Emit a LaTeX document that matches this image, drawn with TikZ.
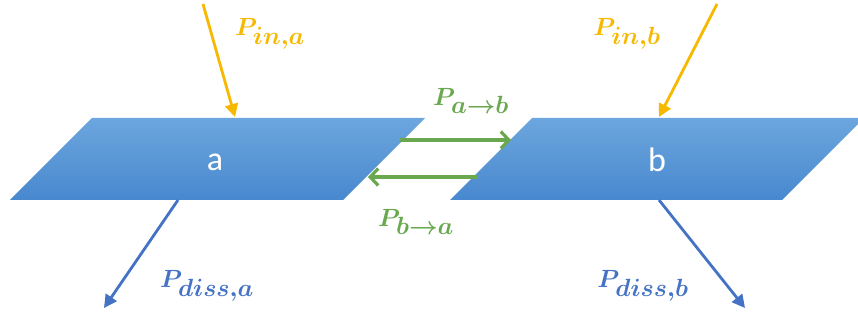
\documentclass[tikz,border=0pt]{standalone}
\usepackage{fontspec}
\newfontfamily\platefont{Carlito}
\usetikzlibrary{arrows.meta}
\definecolor{ptop}{HTML}{6CA6DE}
\definecolor{pbot}{HTML}{4888CE}
\definecolor{pgold}{HTML}{F7B800}
\definecolor{pgreen}{HTML}{6AA84F}
\definecolor{pdblue}{HTML}{4472C4}
\DeclareMathSizes{31}{31}{23}{17}
\tikzset{
  plate/.style={top color=ptop,bottom color=pbot,draw=none},
  platelabel/.style={text=white,font=\platefont\fontsize{34}{36}\selectfont,inner sep=0pt},
  pw/.style={font=\fontsize{31}{33}\selectfont\boldmath,inner sep=0pt},
  goldarrow/.style={draw=pgold,line width=2.8pt,-{Triangle[length=13pt,width=13pt]}},
  bluearrow/.style={draw=pdblue,line width=2.8pt,-{Triangle[length=13pt,width=13pt]}},
  greenarrow/.style={draw=pgreen,line width=3.2pt,-{Straight Barb[length=8pt,width=17pt,line width=3.2pt]}},
}
\begin{document}
\begin{tikzpicture}[x=1pt,y=-1pt]
\useasboundingbox (0,0) rectangle (858,320);
% plates
\shade[plate] (92,118) -- (425,118) -- (343,200) -- (10,200) -- cycle;
\shade[plate] (532,118) -- (864,118) -- (782,200) -- (450,200) -- cycle;
\node[platelabel] (la) at (215,162) {a};
\node[platelabel] (lb) at (657,160) {b};
% coordinates
\coordinate (ina0) at (203,4);
\coordinate (ina1) at (235,117);
\coordinate (inb0) at (717,4);
\coordinate (inb1) at (659,117);
\coordinate (da0) at (178,200);
\coordinate (da1) at (104,308);
\coordinate (db0) at (659,200);
\coordinate (db1) at (745,308);
\coordinate (ab0) at (400,140);
\coordinate (ab1) at (511,140);
\coordinate (ba0) at (478,177);
\coordinate (ba1) at (368,177);
% arrows
\draw[goldarrow] (ina0) -- (ina1);
\draw[goldarrow] (inb0) -- (inb1);
\draw[bluearrow] (da0) -- (da1);
\draw[bluearrow] (db0) -- (db1);
\draw[greenarrow] (ab0) -- (ab1);
\draw[greenarrow] (ba0) -- (ba1);
% labels
\node[pw,text=pgold] (pina) at (270,34) {$P_{in,a}$};
\node[pw,text=pgold] (pinb) at (627,34) {$P_{in,b}$};
\node[pw,text=pdblue] (pda) at (207,286) {$P_{diss,a}$};
\node[pw,text=pdblue] (pdb) at (643,286) {$P_{diss,b}$};
\node[pw,text=pgreen] (pab) at (471,101) {$P_{a\rightarrow b}$};
\node[pw,text=pgreen] (pba) at (416,222) {$P_{b\rightarrow a}$};
\end{tikzpicture}
\end{document}
